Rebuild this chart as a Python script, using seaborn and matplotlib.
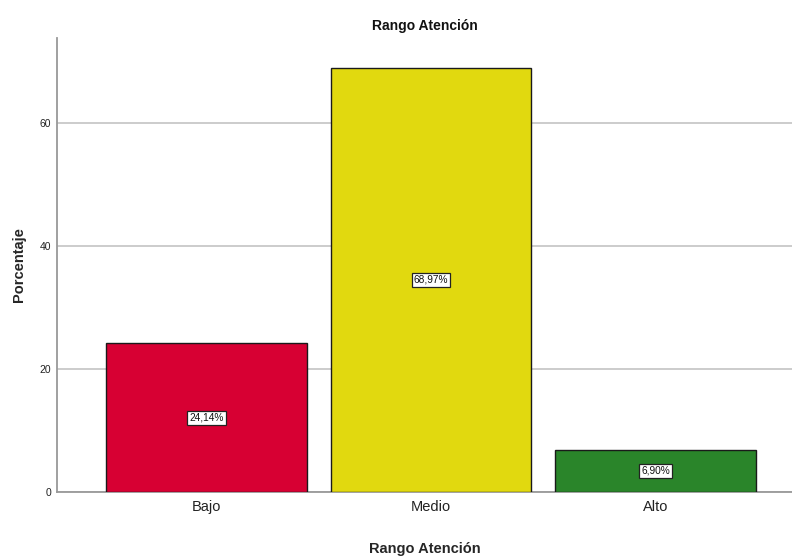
import matplotlib
matplotlib.use("Agg")
import matplotlib.pyplot as plt
import seaborn as sns
import pandas as pd

categories = ["Bajo", "Medio", "Alto"]
values = [24.14, 68.97, 6.90]
labels = ["24,14%", "68,97%", "6,90%"]
colors = ["#D70033", "#E1D90F", "#2A852A"]
yticks = [0, 20, 40, 60]

sns.set_theme(style="white")
plt.rcParams['font.family'] = ['Liberation Sans', 'DejaVu Sans']

df = pd.DataFrame({"cat": categories, "val": values})

fig = plt.figure(figsize=(7.92, 5.56), dpi=100)
ax = fig.add_axes([57/792, (556-492)/556, (792-57)/792, (492-38)/556])

sns.barplot(data=df, x="cat", y="val", hue="cat", palette=colors, legend=False,
            saturation=1, width=0.895, edgecolor="#1a1a1a", linewidth=1.0, ax=ax, zorder=3)

ax.set_xlim(-0.666, 0.608 + 2)
ax.set_ylim(0, 73.8)
ax.set_yticks(yticks)
ax.set_yticklabels([str(t) for t in yticks], fontsize=7.5, color="#222222")
ax.tick_params(axis="x", labelsize=10.5, colors="#222222", length=0, pad=6)
ax.tick_params(axis="y", length=0, pad=4)
ax.yaxis.grid(True, color="#c8c8c8", linewidth=1.3, zorder=0)
ax.set_axisbelow(True)
for s in ["top", "right"]:
    ax.spines[s].set_visible(False)
for s in ["left", "bottom"]:
    ax.spines[s].set_color("#999999")
    ax.spines[s].set_linewidth(1.3)

for i, (v, lab) in enumerate(zip(values, labels)):
    ax.text(i, v / 2, lab, ha="center", va="center", fontsize=7.3, color="#111111",
            bbox=dict(boxstyle="square,pad=0.2", facecolor="white", edgecolor="#222222", linewidth=0.9),
            zorder=5)

ax.set_xlabel("Rango Atención", fontsize=10.5, fontweight="bold", labelpad=20)
ax.set_ylabel("Porcentaje", fontsize=10.5, fontweight="bold", labelpad=10)
fig.text((57+792)/2/792, 1 - 26/556, "Rango Atención", ha="center", va="center",
         fontsize=10, fontweight="bold", color="#111111")

fig.savefig("out.png", dpi=100)
